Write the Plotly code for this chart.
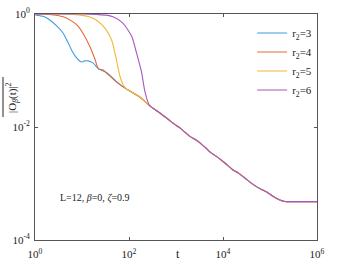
import plotly.graph_objects as go

# log10(t) / log10(|O|^2) values
tail_logt = [2.80, 2.95, 3.09, 3.20, 3.30, 3.41, 3.51, 3.62, 3.72, 3.86, 4.00, 4.10, 4.21, 4.32, 4.43, 4.58, 4.72, 4.83, 4.93, 5.07, 5.21, 5.32, 5.43, 5.70, 6.00]
tail_logy = [-1.84, -1.94, -2.02, -2.10, -2.17, -2.22, -2.28, -2.36, -2.44, -2.52, -2.61, -2.68, -2.76, -2.81, -2.88, -2.98, -3.06, -3.11, -3.15, -3.23, -3.29, -3.32, -3.32, -3.32, -3.32]

r3_logt = [0.0, 0.04, 0.20, 0.32, 0.45, 0.60, 0.70, 0.78, 0.89, 0.99, 1.06, 1.13, 1.24, 1.35, 1.53, 1.74, 1.95, 2.23, 2.45, 2.62]
r3_logy = [-0.01, -0.02, -0.05, -0.11, -0.20, -0.34, -0.50, -0.64, -0.78, -0.85, -0.83, -0.83, -0.87, -0.97, -1.04, -1.20, -1.33, -1.47, -1.63, -1.73]

r4_logt = [0.0, 0.30, 0.60, 0.81, 0.92, 1.02, 1.17, 1.28, 1.35, 1.45, 1.53, 1.74, 1.95, 2.23, 2.45, 2.62]
r4_logy = [0.0, -0.01, -0.05, -0.14, -0.22, -0.34, -0.58, -0.81, -0.97, -0.99, -1.05, -1.21, -1.33, -1.47, -1.63, -1.73]

r5_logt = [0.0, 0.60, 0.96, 1.15, 1.31, 1.49, 1.63, 1.72, 1.81, 1.88, 1.95, 2.23, 2.45, 2.62]
r5_logy = [0.0, 0.0, -0.02, -0.05, -0.11, -0.25, -0.46, -0.76, -1.11, -1.26, -1.33, -1.47, -1.63, -1.73]

r6_logt = [0.0, 1.00, 1.31, 1.52, 1.66, 1.87, 2.06, 2.16, 2.27, 2.34, 2.43, 2.45, 2.62]
r6_logy = [0.0, 0.0, -0.01, -0.02, -0.05, -0.16, -0.40, -0.69, -1.04, -1.38, -1.61, -1.63, -1.73]

x_tickvals = [1, 1e2, 1e4, 1e6]
x_ticktext = ["10<sup>0</sup>", "10<sup>2</sup>", "10<sup>4</sup>", "10<sup>6</sup>"]
y_tickvals = [1e-4, 1e-2, 1]
y_ticktext = ["10<sup>-4</sup>", "10<sup>-2</sup>", "10<sup>0</sup>"]

names = ["r<sub>2</sub>=3", "r<sub>2</sub>=4", "r<sub>2</sub>=5", "r<sub>2</sub>=6"]
colors = ["#3f9ce0", "#e2693a", "#f3b834", "#a857c2"]
heads = [(r3_logt, r3_logy), (r4_logt, r4_logy), (r5_logt, r5_logy), (r6_logt, r6_logy)]

FONT = "Liberation Serif, Times New Roman, DejaVu Serif, serif"
TXT = "#222222"
fig = go.Figure()
for (lt, ly), name, col in zip(heads, names, colors):
    xs = [10 ** v for v in lt + tail_logt]
    ys = [10 ** v for v in ly + tail_logy]
    fig.add_trace(go.Scatter(x=xs, y=ys, mode="lines", name=name,
                             line=dict(color=col, width=1.1, shape="spline", smoothing=0.6)))

axcol = "#555555"
common = dict(type="log", showgrid=False, zeroline=False, showline=True, linecolor=axcol,
              linewidth=1, mirror="ticks", ticks="inside", ticklen=3, tickcolor=axcol,
              automargin=False, ticklabeloverflow="allow",
              tickfont=dict(family=FONT, size=11, color=TXT))
fig.update_layout(
    width=337, height=266,
    margin=dict(l=35, r=20, t=14, b=26, autoexpand=False),
    paper_bgcolor="white", plot_bgcolor="white",
    font=dict(family=FONT, size=11, color=TXT),
    xaxis=dict(range=[0, 6], tickvals=x_tickvals, ticktext=x_ticktext, ticklabelstandoff=4, **common),
    yaxis=dict(range=[-4, 0], tickvals=y_tickvals, ticktext=y_ticktext, ticklabelstandoff=2, **common),
    showlegend=True,
    legend=dict(x=0.77, y=0.98, xanchor="left", yanchor="top", bgcolor="rgba(0,0,0,0)",
                font=dict(family=FONT, size=11, color=TXT), itemwidth=30,
                tracegroupgap=0),
)
fig.add_annotation(text="t", xref="paper", yref="paper", x=(178 - 35) / 282, y=(240 - 254) / 226,
                   xanchor="center", yanchor="middle", showarrow=False,
                   font=dict(family=FONT, size=12, color=TXT))
fig.add_annotation(text="L=12, <i>β</i>=0, <i>ζ</i>=0.9", xref="paper", yref="paper",
                   x=(95 - 35) / 282, y=(240 - 198) / 226, xanchor="center", yanchor="middle",
                   showarrow=False, font=dict(family=FONT, size=10, color=TXT))
fig.add_annotation(text="|O<sub><i>β</i></sub>(t)|<sup>2</sup>", xref="paper", yref="paper",
                   x=(12 - 35) / 282, y=(240 - 97) / 226, xanchor="center", yanchor="middle",
                   showarrow=False, textangle=-90,
                   font=dict(family=FONT, size=11, color=TXT))
fig.add_shape(type="line", xref="paper", yref="paper",
              x0=(3 - 35) / 282, x1=(3 - 35) / 282, y0=(240 - 77) / 226, y1=(240 - 117) / 226,
              line=dict(color=TXT, width=1))
fig.write_html("out.html", config={"displayModeBar": False},
               post_script="document.body.style.margin='0';")
